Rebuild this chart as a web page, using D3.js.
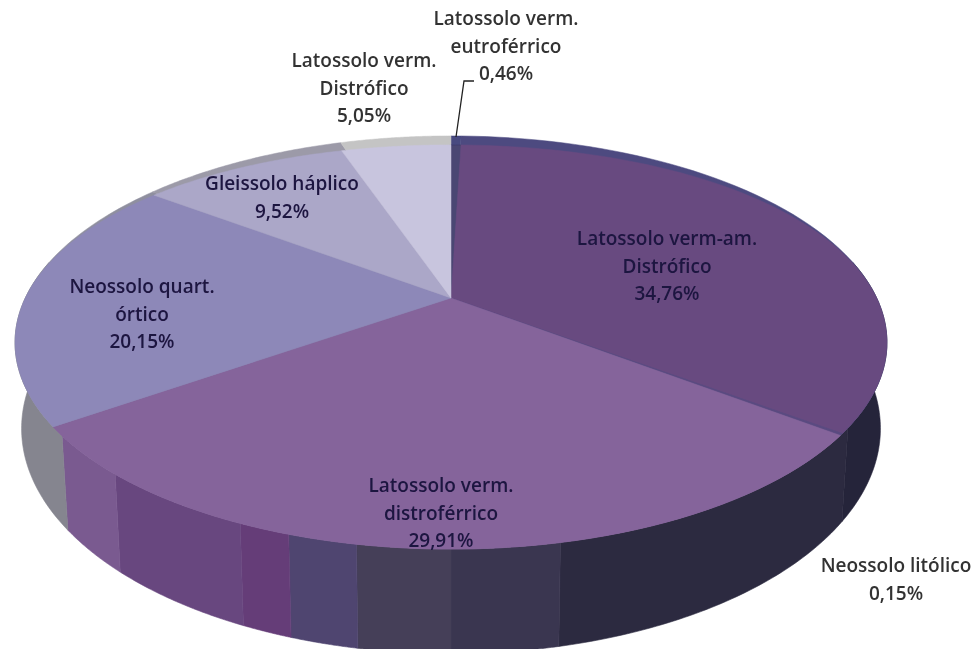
<!DOCTYPE html>
<html><head><meta charset="utf-8">
<script src="https://cdn.jsdelivr.net/npm/d3@7/dist/d3.min.js"></script>
<style>html,body{margin:0;padding:0;background:#fff;overflow:hidden}svg{display:block}
text{font-family:"Open Sans",Lato,sans-serif;font-weight:600;font-size:19px;text-anchor:middle;dominant-baseline:middle}</style>
</head><body><svg id="c" width="979" height="649"></svg>
<script>
const categories=["Latossolo verm. eutroférrico","Latossolo verm-am. Distrófico","Neossolo litólico","Latossolo verm. distroférrico","Neossolo quart. órtico","Gleissolo háplico","Latossolo verm. Distrófico"];
const values=[0.46,34.76,0.15,29.91,20.15,9.52,5.05];
const faceColors=["#4a4773","#684a80","#5a4a80","#85649b","#8d88b8","#aba7c8","#c8c5de"];
const rimColors=["#484a80","#4d4a80","#4d4a80","#85649b","#8f8f9f","#9c9aa8","#c4c4c4"];
const labelLines=[["Latossolo verm.","eutroférrico","0,46%"],["Latossolo verm-am.","Distrófico","34,76%"],["Neossolo litólico","0,15%"],["Latossolo verm.","distroférrico","29,91%"],["Neossolo quart.","órtico","20,15%"],["Gleissolo háplico","9,52%"],["Latossolo verm.","Distrófico","5,05%"]];
const labelX=[506,667,896,441,142,282,364];
const labelY=[20,240,567,487,288,185,62];
const labelFill=["#333","#1d1440","#333","#1d1440","#1d1440","#1d1440","#333"];
const wallStops=[22,34.8,46.75,50,52.8,54.9,56.5,61.5,64.6,78];
const wallColors=["#25243a","#2c2a40","#3a3650","#453f58","#4f4570","#653d78","#68477f","#7a5a90","#85858f"];
const leader=[[456,137],[464,81],[474,81]];

const cx=451,cy=298,k=0.2155,A=197,B=425.7,D0=82,LINE=27.5;
const svg=d3.select("#c");
const defs=svg.append("defs");
defs.append("filter").attr("id","soft").append("feGaussianBlur").attr("stdDeviation",0.4);
const toAngle=d3.scaleLinear().domain([0,100]).range([0,2*Math.PI]);
const line=d3.line();
function rim(a){const u=Math.sin(a),v=-Math.cos(a),w=1-k*v;return {u,v,w,x:cx+B*u/w,y:cy+A*v/w};}
const topRim=a=>{const p=rim(a);return [p.x,p.y];};
const bottomRim=a=>{const p=rim(a);return [cx+(p.x-cx)*0.985,p.y+D0/p.w];};
const innerRim=a=>{const p=rim(a);const b=Math.max(0,-p.v);return [p.x-3*p.u*b,p.y+9*b*b];};
const samples=(a0,a1,f)=>d3.range(0,61).map(i=>f(a0+(a1-a0)*i/60));

// side wall
svg.append("g").selectAll("path").data(wallColors).join("path")
  .attr("fill",d=>d).attr("stroke",d=>d).attr("stroke-width",0.6)
  .attr("d",(d,i)=>{const a0=toAngle(wallStops[i]),a1=toAngle(wallStops[i+1]);
    return line(samples(a0,a1,topRim).concat(samples(a1,a0,bottomRim)))+"Z";});

// top face
const arcs=d3.pie().sort(null).value(d=>d).startAngle(0).endAngle(2*Math.PI)(values);
const g=svg.append("g");
g.selectAll("path.rim").data(arcs).join("path").attr("class","rim")
  .attr("fill",(d,i)=>rimColors[i]).attr("stroke",(d,i)=>rimColors[i]).attr("stroke-width",0.5)
  .attr("d",d=>line([[cx,cy]].concat(samples(d.startAngle,d.endAngle,topRim)))+"Z");
g.selectAll("path.face").data(arcs).join("path").attr("class","face")
  .attr("fill",(d,i)=>faceColors[i]).attr("stroke",(d,i)=>faceColors[i]).attr("stroke-width",0.5)
  .attr("d",d=>line([[cx,cy]].concat(samples(d.startAngle,d.endAngle,innerRim)))+"Z");

// leader line
svg.append("path").attr("d",line(leader)).attr("fill","none").attr("stroke","#222").attr("stroke-width",1.3);

// labels
const lg=svg.append("g").attr("filter","url(#soft)");
labelLines.forEach((lines,i)=>{
  lines.forEach((t,j)=>{
    lg.append("text").attr("x",labelX[i]).attr("y",labelY[i]+j*LINE).attr("fill",labelFill[i]).text(t);
  });
});
</script></body></html>
